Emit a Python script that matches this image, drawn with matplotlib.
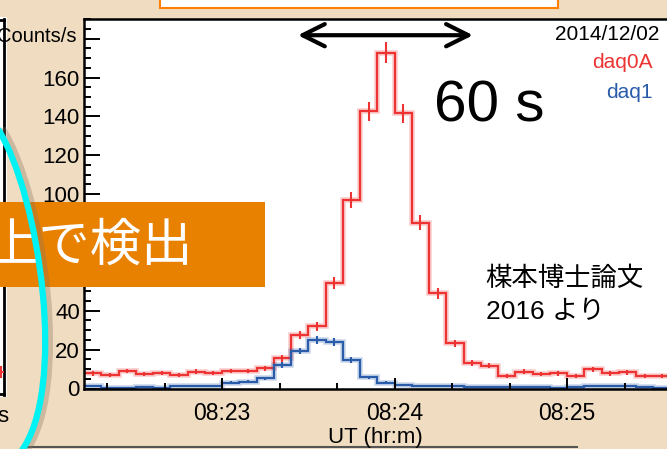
import numpy as np
import matplotlib
matplotlib.use("Agg")
import matplotlib.pyplot as plt
from matplotlib.patches import Rectangle, PathPatch
from matplotlib.path import Path
from matplotlib.lines import Line2D
from matplotlib.ticker import FixedLocator, MultipleLocator
from matplotlib.patches import ArrowStyle

plt.rcParams['font.family'] = ['Liberation Sans', 'Noto Sans CJK JP', 'DejaVu Sans']

# ---------------- data ----------------
# time in seconds after 08:22:00 UT, 6-s bins
bin_edges_s = np.arange(12, 222, 6)
daq0A_rate = [7.8, 7.1, 9.0, 7.6, 8.1, 6.9, 8.6, 8.1, 9.0, 9.0, 10.4, 15.5,
              27.5, 32.1, 54.4, 97.0, 142.7, 172.7, 141.6, 85.3, 49.0, 23.2,
              13.0, 11.7, 6.4, 8.6, 7.3, 7.8, 6.6, 10.0, 7.8, 8.3, 6.6, 6.6]
daq1_rate = [1.3, 0.3, 0.3, 1.0, 0.5, 1.3, 1.3, 1.5, 3.0, 3.4, 5.2, 12.1,
             19.3, 24.9, 24.1, 14.8, 5.7, 3.0, 1.8, 1.4, 1.3, 1.2,
             1.0, 0.8, 0.9, 0.7, 0.6, 0.5, 1.0, 1.3, 1.3, 1.2, 0.6, 0.5]
bin_width_s = 6
xtick_pos_s = [60, 120, 180]
xtick_labels = ['08:23', '08:24', '08:25']
ytick_vals = [0, 20, 40, 60, 80, 100, 120, 140, 160, 180]
# 60 and 80 are hidden behind the orange banner in the reference
ytick_labels = ['0', '20', '40', '', '', '100', '120', '140', '160', '']
arrow_span_s = [86.4, 147.3]
arrow_level = 181.8

# ---------------- style ----------------
W, H = 667, 449
BEIGE = '#F0DCC0'
RED = '#EE3333'
BLUE = '#2A5CAA'
ORANGE = '#E88000'
CYAN = '#00F2F2'


def fx(px):
    return px / W


def fy(py):
    return 1 - py / H


fig = plt.figure(figsize=(W / 100, H / 100), dpi=100, facecolor=BEIGE)

# left partial panel of another plot
fig.add_artist(Rectangle((fx(-10), fy(397)), fx(17.3), (397 - 16.7) / H,
                         transform=fig.transFigure, facecolor='white',
                         edgecolor='none', zorder=0.5))
for (x0, y0, x1, y1) in [(4.2, 19, 4.2, 395), (-10, 20.3, 4.2, 20.3), (-10, 394, 4.2, 394)]:
    fig.add_artist(Line2D([fx(x0), fx(x1)], [fy(y0), fy(y1)], transform=fig.transFigure,
                          color='black', lw=2, zorder=0.6))
fig.add_artist(Line2D([fx(0), fx(3)], [fy(372), fy(372)], transform=fig.transFigure,
                      color=RED, lw=1.5, zorder=0.6))
fig.add_artist(Line2D([fx(1), fx(1)], [fy(367), fy(377)], transform=fig.transFigure,
                      color=RED, lw=1.5, zorder=0.6))
fig.text(fx(8), fy(416), 's', fontsize=16, ha='right', va='center')

# top orange-outlined box
fig.add_artist(Rectangle((fx(160), fy(7.5)), fx(558 - 160), 20 / H,
                         transform=fig.transFigure, facecolor='white',
                         edgecolor='#FF8000', lw=1.5, zorder=0.5))

# bottom grey line
fig.add_artist(Line2D([fx(27), fx(577)], [fy(446.5), fy(446.5)], transform=fig.transFigure,
                      color='#555555', lw=1.5, zorder=0.6))

# main axes
ax = fig.add_axes([fx(84), fy(388.5), 1 - fx(84), (388.5 - 18.7) / H])
ax.set_facecolor('white')
ax.set_xlim(12, 12 + (W - 84) / 2.875)
ax.set_ylim(0, 190.3)

edges = bin_edges_s
centers = (edges[:-1] + edges[1:]) / 2
for rate, col in [(daq0A_rate, RED), (daq1_rate, BLUE)]:
    rate = np.array(rate)
    err = np.sqrt(rate / bin_width_s)
    ax.stairs(rate, edges, baseline=None, color=col, lw=4, alpha=0.25)
    ax.stairs(rate, edges, baseline=None, color=col, lw=1.6)
    ax.errorbar(centers, rate, yerr=err, fmt='none', ecolor=col, elinewidth=1.5)

ax.spines['right'].set_visible(False)
for s in ['left', 'bottom', 'top']:
    ax.spines[s].set_linewidth(1.8)

ax.xaxis.set_major_locator(FixedLocator(xtick_pos_s))
ax.set_xticklabels(xtick_labels)
ax.xaxis.set_minor_locator(MultipleLocator(20))
ax.yaxis.set_major_locator(FixedLocator(ytick_vals))
ax.set_yticklabels(ytick_labels)
ax.yaxis.set_minor_locator(MultipleLocator(5))
ax.tick_params(axis='y', which='major', direction='in', length=11.5, width=1.4,
               labelsize=16, pad=3)
ax.tick_params(axis='y', which='minor', direction='in', length=5, width=1.4)
ax.tick_params(axis='x', which='major', direction='in', length=8, width=1.4,
               labelsize=16.5, pad=10)
ax.tick_params(axis='x', which='minor', direction='in', length=4.3, width=1.4)

# double arrow (60 s)
ax.annotate('', xy=(arrow_span_s[1], arrow_level), xytext=(arrow_span_s[0], arrow_level),
            arrowprops=dict(arrowstyle=ArrowStyle('<->', head_length=0.8, head_width=0.4),
                            mutation_scale=20, lw=3, color='black', shrinkA=0, shrinkB=0),
            annotation_clip=False)

# texts
fig.text(fx(76), fy(37), 'Counts/s', fontsize=14.5, ha='right', va='center')
fig.text(fx(375), fy(437), 'UT (hr:m)', fontsize=16, ha='center', va='center')
fig.text(fx(659), fy(35), '2014/12/02', fontsize=15, ha='right', va='center')
fig.text(fx(653), fy(63), 'daq0A', fontsize=15, ha='right', va='center', color=RED)
fig.text(fx(653), fy(93), 'daq1', fontsize=15, ha='right', va='center', color=BLUE)
fig.text(fx(489), fy(106), '60 s', fontsize=42, ha='center', va='center')
fig.text(fx(485), fy(278), '楳本博士論文', fontsize=19, ha='left', va='center',
         family=['Noto Sans CJK JP'])
fig.text(fx(486), fy(312), '2016 より', fontsize=19, ha='left', va='center',
         family=['Liberation Sans', 'Noto Sans CJK JP'])

# orange banner
fig.add_artist(Rectangle((fx(-10), fy(287)), fx(275), (287 - 202) / H,
                         transform=fig.transFigure, facecolor=ORANGE,
                         edgecolor='none', zorder=5))
fig.text(fx(193), fy(246), '上で検出', fontsize=37, ha='right', va='center',
         color='white', family=['Noto Sans CJK JP'], zorder=6)

# cyan arc with shadow
verts_px = [(-2, 128), (40, 195), (68, 390), (20, 452)]
codes = [Path.MOVETO, Path.CURVE4, Path.CURVE4, Path.CURVE4]
for dx, col, lw, a in [(3, '#8a7560', 7, 0.35), (0, CYAN, 4.5, 1.0)]:
    p = Path([(fx(x + dx), fy(y + 1)) for x, y in verts_px], codes)
    fig.add_artist(PathPatch(p, transform=fig.transFigure, facecolor='none',
                             edgecolor=col, lw=lw, alpha=a, zorder=7))

fig.savefig('out.png', dpi=100, facecolor=BEIGE)
